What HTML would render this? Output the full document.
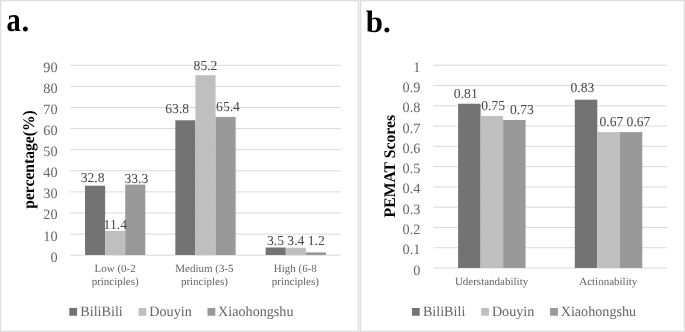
<!DOCTYPE html>
<html lang="en"><head><meta charset="utf-8"><title>Figure</title>
<style>html,body{margin:0;padding:0;background:#fff;}body{width:685px;height:332px;overflow:hidden;}svg{display:block;text-rendering:geometricPrecision;font-family:"Liberation Serif","Times New Roman",serif;}
.t{font-size:14.25px;fill:#646464}.d{font-size:13.65px;text-rendering:geometricPrecision;fill:#484848}.c{font-size:11px;fill:#646464}.l{font-size:14.15px;fill:#646464}.y{font-size:16.2px;font-weight:bold;fill:#000}.h{font-size:31px;font-weight:bold;fill:#000}
</style></head><body>
<svg width="685" height="332" viewBox="0 0 685 332">
<rect x="0" y="0" width="685" height="332" fill="#fff"/>
<rect x="0" y="0" width="359" height="1" fill="#dfdfdf"/>
<rect x="1" y="1" width="357" height="1" fill="#f4f4f4"/>
<rect x="0" y="331" width="359" height="1" fill="#dfdfdf"/>
<rect x="1" y="330" width="357" height="1" fill="#f4f4f4"/>
<rect x="0" y="0" width="1" height="332" fill="#dfdfdf"/>
<rect x="358" y="0" width="1" height="332" fill="#dfdfdf"/>
<rect x="360" y="0" width="325" height="1" fill="#dfdfdf"/>
<rect x="361" y="1" width="323" height="1" fill="#f4f4f4"/>
<rect x="360" y="331" width="325" height="1" fill="#dfdfdf"/>
<rect x="361" y="330" width="323" height="1" fill="#f4f4f4"/>
<rect x="360" y="0" width="1" height="332" fill="#dfdfdf"/>
<rect x="684" y="0" width="1" height="332" fill="#dfdfdf"/>
<rect x="1" y="1" width="1" height="330" fill="#f4f4f4"/>
<rect x="357" y="1" width="1" height="330" fill="#f4f4f4"/>
<rect x="359" y="0" width="1" height="332" fill="#f0f0f0"/>
<rect x="361" y="1" width="1" height="330" fill="#f4f4f4"/>
<rect x="683" y="1" width="1" height="330" fill="#f4f4f4"/>
<line x1="70.00" y1="255.20" x2="341.00" y2="255.20" stroke="#d9d9d9" stroke-width="1"/>
<text class="t" x="57.60" y="261.65" text-anchor="end">0</text>
<line x1="70.00" y1="234.10" x2="341.00" y2="234.10" stroke="#d9d9d9" stroke-width="1"/>
<text class="t" x="57.60" y="240.55" text-anchor="end">10</text>
<line x1="70.00" y1="213.00" x2="341.00" y2="213.00" stroke="#d9d9d9" stroke-width="1"/>
<text class="t" x="57.60" y="219.45" text-anchor="end">20</text>
<line x1="70.00" y1="191.90" x2="341.00" y2="191.90" stroke="#d9d9d9" stroke-width="1"/>
<text class="t" x="57.60" y="198.35" text-anchor="end">30</text>
<line x1="70.00" y1="170.80" x2="341.00" y2="170.80" stroke="#d9d9d9" stroke-width="1"/>
<text class="t" x="57.60" y="177.25" text-anchor="end">40</text>
<line x1="70.00" y1="149.70" x2="341.00" y2="149.70" stroke="#d9d9d9" stroke-width="1"/>
<text class="t" x="57.60" y="156.15" text-anchor="end">50</text>
<line x1="70.00" y1="128.60" x2="341.00" y2="128.60" stroke="#d9d9d9" stroke-width="1"/>
<text class="t" x="57.60" y="135.05" text-anchor="end">60</text>
<line x1="70.00" y1="107.50" x2="341.00" y2="107.50" stroke="#d9d9d9" stroke-width="1"/>
<text class="t" x="57.60" y="113.95" text-anchor="end">70</text>
<line x1="70.00" y1="86.40" x2="341.00" y2="86.40" stroke="#d9d9d9" stroke-width="1"/>
<text class="t" x="57.60" y="92.85" text-anchor="end">80</text>
<line x1="70.00" y1="65.30" x2="341.00" y2="65.30" stroke="#d9d9d9" stroke-width="1"/>
<text class="t" x="57.60" y="71.75" text-anchor="end">90</text>
<text class="h" transform="translate(6.4,31.2) scale(0.92,1.095)">a</text><text class="h" x="21.6" y="31.3">.</text>
<text class="y" transform="translate(34.4,159.5) rotate(-90) scale(0.965,1)" text-anchor="middle">percentage(%)</text>
<rect x="85.02" y="185.69" width="20.10" height="69.31" fill="#737373"/>
<rect x="105.12" y="230.85" width="20.10" height="24.15" fill="#bfbfbf"/>
<rect x="125.22" y="184.64" width="20.10" height="70.36" fill="#999999"/>
<rect x="175.35" y="120.28" width="20.10" height="134.72" fill="#737373"/>
<rect x="195.45" y="75.13" width="20.10" height="179.87" fill="#bfbfbf"/>
<rect x="215.55" y="116.91" width="20.10" height="138.09" fill="#999999"/>
<rect x="265.68" y="247.51" width="20.10" height="7.48" fill="#737373"/>
<rect x="285.78" y="247.73" width="20.10" height="7.27" fill="#bfbfbf"/>
<rect x="305.88" y="252.37" width="20.10" height="2.63" fill="#999999"/>
<text class="d" x="92.60" y="182.10" text-anchor="middle">32.8</text>
<text class="d" x="115.30" y="229.00" text-anchor="middle">11.4</text>
<text class="d" x="136.40" y="183.00" text-anchor="middle">33.3</text>
<text class="d" x="177.20" y="112.70" text-anchor="middle">63.8</text>
<text class="d" x="205.50" y="69.70" text-anchor="middle">85.2</text>
<text class="d" x="228.00" y="111.00" text-anchor="middle">65.4</text>
<text class="d" x="275.50" y="244.80" text-anchor="middle">3.5</text>
<text class="d" x="295.90" y="244.80" text-anchor="middle">3.4</text>
<text class="d" x="316.30" y="244.80" text-anchor="middle">1.2</text>
<text class="c" x="115.17" y="272.0" text-anchor="middle">Low (0-2</text>
<text class="c" x="115.17" y="285.0" text-anchor="middle">principles)</text>
<text class="c" x="204.40" y="272.0" text-anchor="middle">Medium (3-5</text>
<text class="c" x="204.40" y="285.0" text-anchor="middle">principles)</text>
<text class="c" x="295.33" y="272.0" text-anchor="middle">High (6-8</text>
<text class="c" x="295.33" y="285.0" text-anchor="middle">principles)</text>
<rect x="69.30" y="307.95" width="7.8" height="7.8" fill="#737373"/>
<text class="l" x="80.30" y="315.6">BiliBili</text>
<rect x="138.50" y="307.95" width="7.8" height="7.8" fill="#bfbfbf"/>
<text class="l" x="149.30" y="315.6">Douyin</text>
<rect x="207.50" y="307.95" width="7.8" height="7.8" fill="#999999"/>
<text class="l" x="218.10" y="315.6">Xiaohongshu</text>
<line x1="433.50" y1="268.00" x2="666.90" y2="268.00" stroke="#d9d9d9" stroke-width="1"/>
<text class="t" x="420.40" y="274.60" text-anchor="end">0</text>
<line x1="433.50" y1="247.72" x2="666.90" y2="247.72" stroke="#d9d9d9" stroke-width="1"/>
<text class="t" x="420.40" y="254.32" text-anchor="end">0.1</text>
<line x1="433.50" y1="227.44" x2="666.90" y2="227.44" stroke="#d9d9d9" stroke-width="1"/>
<text class="t" x="420.40" y="234.04" text-anchor="end">0.2</text>
<line x1="433.50" y1="207.16" x2="666.90" y2="207.16" stroke="#d9d9d9" stroke-width="1"/>
<text class="t" x="420.40" y="213.76" text-anchor="end">0.3</text>
<line x1="433.50" y1="186.88" x2="666.90" y2="186.88" stroke="#d9d9d9" stroke-width="1"/>
<text class="t" x="420.40" y="193.48" text-anchor="end">0.4</text>
<line x1="433.50" y1="166.60" x2="666.90" y2="166.60" stroke="#d9d9d9" stroke-width="1"/>
<text class="t" x="420.40" y="173.20" text-anchor="end">0.5</text>
<line x1="433.50" y1="146.32" x2="666.90" y2="146.32" stroke="#d9d9d9" stroke-width="1"/>
<text class="t" x="420.40" y="152.92" text-anchor="end">0.6</text>
<line x1="433.50" y1="126.04" x2="666.90" y2="126.04" stroke="#d9d9d9" stroke-width="1"/>
<text class="t" x="420.40" y="132.64" text-anchor="end">0.7</text>
<line x1="433.50" y1="105.76" x2="666.90" y2="105.76" stroke="#d9d9d9" stroke-width="1"/>
<text class="t" x="420.40" y="112.36" text-anchor="end">0.8</text>
<line x1="433.50" y1="85.48" x2="666.90" y2="85.48" stroke="#d9d9d9" stroke-width="1"/>
<text class="t" x="420.40" y="92.08" text-anchor="end">0.9</text>
<line x1="433.50" y1="65.20" x2="666.90" y2="65.20" stroke="#d9d9d9" stroke-width="1"/>
<text class="t" x="420.40" y="71.80" text-anchor="end">1</text>
<text class="h" x="365.8" y="31.7">b.</text>
<text class="y" transform="translate(394.7,166.2) rotate(-90) scale(0.969,1)" text-anchor="middle">PEMAT Scores</text>
<rect x="458.10" y="103.73" width="22.50" height="164.22" fill="#737373"/>
<rect x="480.60" y="115.90" width="22.50" height="152.05" fill="#bfbfbf"/>
<rect x="503.10" y="119.96" width="22.50" height="147.99" fill="#999999"/>
<rect x="574.80" y="99.68" width="22.50" height="168.27" fill="#737373"/>
<rect x="597.30" y="132.12" width="22.50" height="135.83" fill="#bfbfbf"/>
<rect x="619.80" y="132.12" width="22.50" height="135.83" fill="#999999"/>
<text class="d" x="465.80" y="98.00" text-anchor="middle">0.81</text>
<text class="d" x="493.20" y="110.10" text-anchor="middle">0.75</text>
<text class="d" x="521.90" y="114.30" text-anchor="middle">0.73</text>
<text class="d" x="582.40" y="92.20" text-anchor="middle">0.83</text>
<text class="d" x="611.40" y="125.70" text-anchor="middle">0.67</text>
<text class="d" x="638.50" y="125.70" text-anchor="middle">0.67</text>
<text class="c" x="491.55" y="285" text-anchor="middle">Uderstandability</text>
<text class="c" x="608.25" y="285" text-anchor="middle">Actionability</text>
<rect x="411.90" y="307.95" width="7.8" height="7.8" fill="#737373"/>
<text class="l" x="422.90" y="315.6">BiliBili</text>
<rect x="481.10" y="307.95" width="7.8" height="7.8" fill="#bfbfbf"/>
<text class="l" x="491.90" y="315.6">Douyin</text>
<rect x="550.10" y="307.95" width="7.8" height="7.8" fill="#999999"/>
<text class="l" x="560.70" y="315.6">Xiaohongshu</text>
</svg></body></html>
